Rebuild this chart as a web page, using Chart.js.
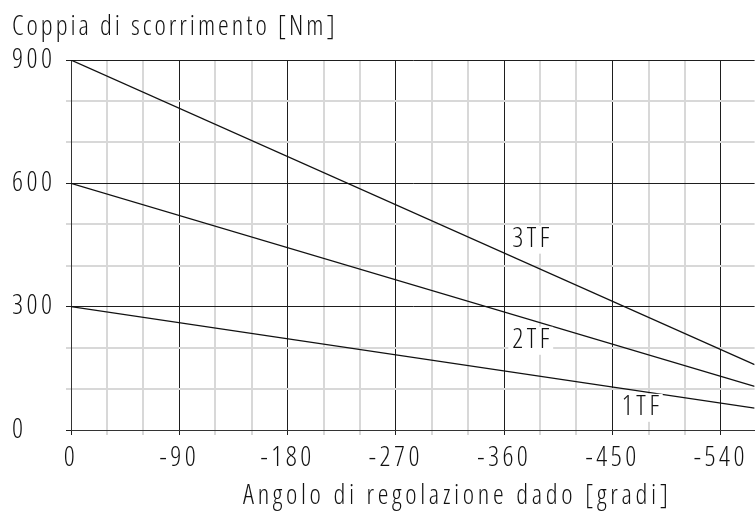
<!DOCTYPE html>
<html>
<head>
<meta charset="utf-8">
<script src="https://cdn.jsdelivr.net/npm/chart.js@4.4.0/dist/chart.umd.min.js"></script>
<style>
  html, body { margin: 0; padding: 0; background: #fff; }
  #wrap { width: 755px; height: 512px; }
</style>
</head>
<body>
<div id="wrap"><canvas id="c"></canvas></div>
<script>
// Slip torque vs. nut adjustment angle, one straight line per spring pack
const seriesNames   = ['1TF', '2TF', '3TF'];
const angleStart    = 0;      // degrees
const angleEnd      = -568;   // degrees, right edge of the plot
const torqueAtStart = [300, 600, 900];   // Nm at 0°
const torqueAtEnd   = [53, 106, 159];    // Nm at angleEnd

// where each series name sits (angle, torque)
const labelAngles   = [-473, -382, -382];
const labelTorques  = [54, 217, 463];

const yTickValues   = [0, 300, 600, 900];
const xTickValues   = [0, -90, -180, -270, -360, -450, -540];
const xGridStep     = 30;    // minor vertical lines every 30°
const yGridStep     = 100;   // minor horizontal lines every 100 Nm

const yTitle = 'Coppia di scorrimento [Nm]';
const xTitle = 'Angolo di regolazione dado [gradi]';

const textFamily = "'Open Sans', 'DejaVu Sans', sans-serif";
const textWeight = '300 condensed';
const textSize = 27;
const textColor = '#111';
const spacing = '3.5px';
const yTitleSpacing = '3px';
const xTitleSpacing = '3.7px';

Chart.defaults.font.family = textFamily;
Chart.defaults.font.weight = textWeight;
Chart.defaults.font.size = textSize;
Chart.defaults.color = textColor;

const datasets = seriesNames.map((name, i) => ({
  label: name,
  data: [
    { x: angleStart, y: torqueAtStart[i] },
    { x: angleEnd,   y: torqueAtEnd[i] }
  ],
  borderColor: '#111',
  borderWidth: 1.2,
  pointRadius: 0,
  tension: 0,
  fill: false
}));

// wide letter spacing for all canvas text
const spacingPlugin = {
  id: 'spacing',
  beforeUpdate(chart) { chart.ctx.letterSpacing = spacing; },
  beforeDraw(chart) { chart.ctx.letterSpacing = spacing; }
};

// axis captions and series names on white boxes
const captionPlugin = {
  id: 'captions',
  afterDatasetsDraw(chart) {
    const { ctx, scales: { x, y } } = chart;
    ctx.save();
    ctx.letterSpacing = spacing;
    ctx.font = `${textWeight} ${textSize}px ${textFamily}`;
    ctx.textAlign = 'center';
    ctx.textBaseline = 'middle';
    seriesNames.forEach((name, i) => {
      const px = x.getPixelForValue(labelAngles[i]);
      const py = y.getPixelForValue(labelTorques[i]);
      const w = ctx.measureText(name).width;
      ctx.fillStyle = '#fff';
      ctx.fillRect(px - w / 2 - 2, py - 14, w + 4, 28);
      ctx.fillStyle = textColor;
      ctx.fillText(name, px + 2, py);
    });
    ctx.textAlign = 'left';
    ctx.textBaseline = 'alphabetic';
    ctx.fillStyle = textColor;
    ctx.letterSpacing = yTitleSpacing;
    ctx.fillText(yTitle, 12, 35);
    ctx.letterSpacing = xTitleSpacing;
    ctx.fillText(xTitle, 243, 503.5);
    ctx.restore();
  }
};

new Chart(document.getElementById('c'), {
  type: 'line',
  data: { datasets },
  plugins: [spacingPlugin, captionPlugin],
  options: {
    responsive: true,
    maintainAspectRatio: false,
    animation: false,
    layout: { padding: { left: 12, top: 60, right: 0, bottom: 0 } },
    plugins: { legend: { display: false }, tooltip: { enabled: false } },
    scales: {
      x: {
        type: 'linear',
        reverse: true,
        min: angleEnd,
        max: angleStart,
        afterBuildTicks(scale) {
          const ticks = [];
          for (let v = angleStart; v >= angleEnd; v -= xGridStep) ticks.push({ value: v });
          scale.ticks = ticks;
        },
        afterFit(scale) { scale.height = 82; },
        ticks: {
          autoSkip: false,
          maxRotation: 0,
          padding: 7,
          callback: v => (xTickValues.includes(v) ? String(v) : '')
        },
        grid: {
          color: c => (c.tick && xTickValues.includes(c.tick.value) ? '#1e1e1e' : '#d8d8d8'),
          lineWidth: c => (c.tick && xTickValues.includes(c.tick.value) ? 1 : 2),
          tickLength: 5
        },
        border: { color: '#333', width: 1 }
      },
      y: {
        type: 'linear',
        min: 0,
        max: 900,
        afterFit(scale) { scale.width = 59; },
        ticks: {
          stepSize: yGridStep,
          crossAlign: 'far',
          padding: 8,
          callback: v => (yTickValues.includes(v) ? String(v) : '')
        },
        grid: {
          color: c => (c.tick && yTickValues.includes(c.tick.value) ? '#1e1e1e' : '#d8d8d8'),
          lineWidth: c => (c.tick && yTickValues.includes(c.tick.value) ? 1 : 2),
          tickLength: 5
        },
        border: { color: '#333', width: 1 }
      }
    }
  }
});
</script>
</body>
</html>
